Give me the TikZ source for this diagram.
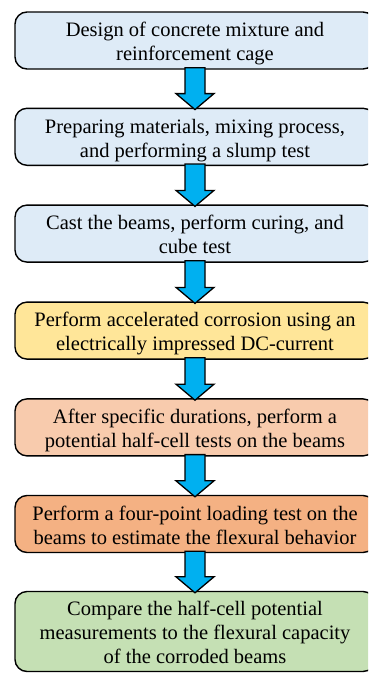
\documentclass[tikz,border=0pt]{standalone}
\usepackage{fontspec}
\setmainfont{Liberation Serif}
\usetikzlibrary{calc}
\definecolor{boxblue}{HTML}{DEEBF7}
\definecolor{boxyellow}{HTML}{FFE699}
\definecolor{boxpeach}{HTML}{F8CBAD}
\definecolor{boxorange}{HTML}{F4B183}
\definecolor{boxgreen}{HTML}{C5E0B4}
\definecolor{arrowblue}{HTML}{00B0F0}
\tikzset{
  stagebox/.style={draw=black, line width=1.4pt, rounded corners=12pt,
    minimum width=360pt, inner sep=0pt},
  stagetext/.style={align=center, inner sep=0pt,
    font=\fontsize{20.5}{24}\selectfont},
  flowarrow/.style={fill=arrowblue, draw=black, line width=1.3pt, line join=miter},
}
\newcommand{\flowarr}[2]{%
  \path[flowarrow] ($(#1.south)+(-10,2)$) -- ($(#2.north)+(-10,14)$)
    -- ($(#2.north)+(-19,14)$) -- ($(#2.north)+(0,-2)$)
    -- ($(#2.north)+(19,14)$) -- ($(#2.north)+(10,14)$)
    -- ($(#1.south)+(10,2)$) -- cycle;}
\begin{document}
\begin{tikzpicture}[x=1pt,y=1pt]
\useasboundingbox (0,0) rectangle (368,-673);
\clip (0,0) rectangle (368,-673);
% boxes
\node[stagebox, fill=boxblue, minimum height=57pt] (b1) at (195,-40.5) {};
\node[stagebox, fill=boxblue, minimum height=57pt] (b2) at (195,-136.8) {};
\node[stagebox, fill=boxblue, minimum height=57pt] (b3) at (195,-233.6) {};
\node[stagebox, fill=boxyellow, minimum height=57pt] (b4) at (195,-330.6) {};
\node[stagebox, fill=boxpeach, minimum height=57pt] (b5) at (195,-427.4) {};
\node[stagebox, fill=boxorange, minimum height=57pt] (b6) at (195,-524) {};
\node[stagebox, fill=boxgreen, minimum height=80pt] (b7) at (195,-631.5) {};
% texts
\node[stagetext] (t1) at ($(b1.center)+(0,-3.5)$) {\strut Design of concrete mixture and\\\strut reinforcement cage};
\node[stagetext] (t2) at ($(b2.center)+(0,-3.5)$) {\strut Preparing materials, mixing process,\\\strut and performing a slump test};
\node[stagetext] (t3) at ($(b3.center)+(0,-3.5)$) {\strut Cast the beams, perform curing, and\\\strut cube test};
\node[stagetext] (t4) at ($(b4.center)+(0,-3.5)$) {\strut Perform accelerated corrosion using an\\\strut electrically impressed DC-current};
\node[stagetext] (t5) at ($(b5.center)+(0,-3.5)$) {\strut After specific durations, perform a\\\strut potential half-cell tests on the beams};
\node[stagetext] (t6) at ($(b6.center)+(0,-3.5)$) {\strut Perform a four-point loading test on the\\\strut beams to estimate the flexural behavior};
\node[stagetext] (t7) at ($(b7.center)+(0,-3.5)$) {\strut Compare the half-cell potential\\\strut measurements to the flexural capacity\\\strut of the corroded beams};
% arrows
\flowarr{b1}{b2}
\flowarr{b2}{b3}
\flowarr{b3}{b4}
\flowarr{b4}{b5}
\flowarr{b5}{b6}
\flowarr{b6}{b7}
\end{tikzpicture}
\end{document}
